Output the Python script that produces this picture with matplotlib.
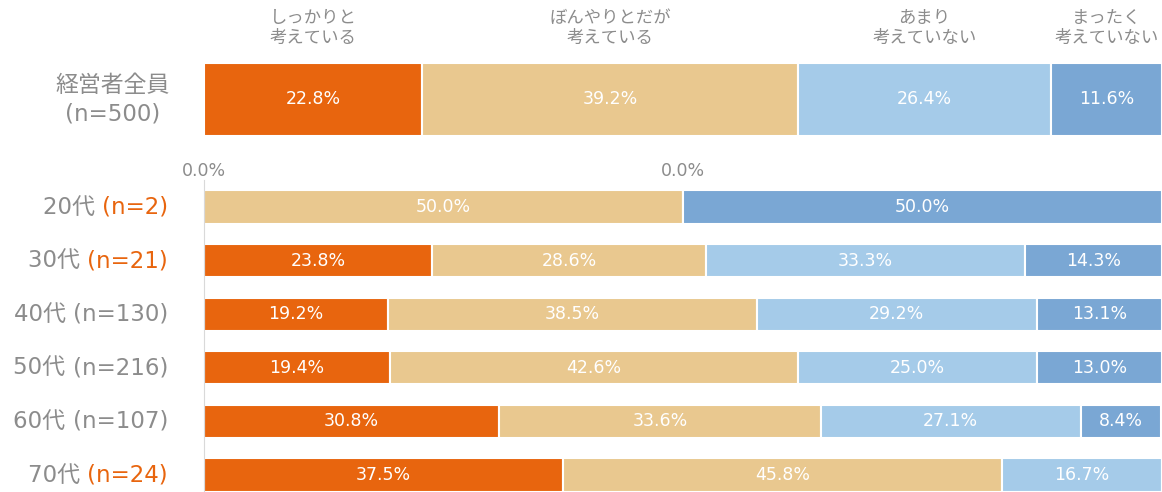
import matplotlib
matplotlib.use("Agg")
import matplotlib.pyplot as plt
import numpy as np

plt.rcParams['font.family'] = ['DejaVu Sans', 'Noto Sans CJK JP']

# データ
kategori = ["しっかりと\n考えている", "ぼんやりとだが\n考えている", "あまり\n考えていない", "まったく\n考えていない"]
farger = ["#E8650E", "#E9C88F", "#A5CBE9", "#7AA7D4"]

total_label = "経営者全員\n(n=500)"
total_verdier = [22.8, 39.2, 26.4, 11.6]

alder = ["20代", "30代", "40代", "50代", "60代", "70代"]
antall = ["(n=2)", "(n=21)", "(n=130)", "(n=216)", "(n=107)", "(n=24)"]
uthev = [True, True, False, False, False, True]
alder_verdier = np.array([
    [0.0, 50.0, 0.0, 50.0],
    [23.8, 28.6, 33.3, 14.3],
    [19.2, 38.5, 29.2, 13.1],
    [19.4, 42.6, 25.0, 13.0],
    [30.8, 33.6, 27.1, 8.4],
    [37.5, 45.8, 16.7, 0.0],
])

grå = "#8C8C8C"
oransje = "#E8650E"

fig = plt.figure(figsize=(11.62, 4.92), dpi=100)

# øverste stolpe: alle
ax1 = fig.add_axes([204/1162, 1-136/492, 1-204/1162, 73/492])
venstre = 0
for i, v in enumerate(total_verdier):
    ax1.barh(0, v, left=venstre, height=1.0, color=farger[i], edgecolor="white", linewidth=1.5)
    ax1.text(venstre + v/2, 0, f"{v:.1f}%", ha="center", va="center", color="white", fontsize=12.5)
    ax1.text(venstre + v/2, 0.98, kategori[i], ha="center", va="center", color=grå,
             fontsize=12.5, linespacing=1.2)
    venstre += v
ax1.set_xlim(0, 100)
ax1.set_ylim(-0.5, 0.5)
ax1.axis("off")
ax1.text(-3.6, 0, total_label, transform=ax1.transData, ha="right", va="center",
         color=grå, fontsize=16.5, multialignment="center", linespacing=1.3, clip_on=False)

# aldersgrupper
ax2 = fig.add_axes([204/1162, 0, 1-204/1162, 312/492])
y = np.arange(len(alder))
venstre = np.zeros(len(alder))
for j in range(4):
    ax2.barh(y, alder_verdier[:, j], left=venstre, height=0.62, color=farger[j],
             edgecolor="white", linewidth=1.5)
    for k in range(len(alder)):
        v = alder_verdier[k, j]
        if v > 0:
            ax2.text(venstre[k] + v/2, y[k], f"{v:.1f}%", ha="center", va="center",
                     color="white", fontsize=12.5)
        elif venstre[k] < 100:
            ax2.text(venstre[k], y[k] - 0.67, f"{v:.1f}%", ha="center", va="center",
                     color=grå, fontsize=12.5)
    venstre += alder_verdier[:, j]

ax2.set_xlim(0, 100)
ax2.set_ylim(5.317, -0.504)
for s in ["top", "right", "bottom"]:
    ax2.spines[s].set_visible(False)
ax2.spines["left"].set_color("#D9D9D9")
ax2.set_xticks([])
ax2.set_yticks([])

# etiketter med to farger
fig.canvas.draw()
renderer = fig.canvas.get_renderer()
for k in range(len(alder)):
    t = ax2.annotate(antall[k], xy=(0, y[k]), xycoords="data", xytext=(-36, 0),
                     textcoords="offset pixels", ha="right", va="center", fontsize=16.5,
                     color=oransje if uthev[k] else grå, annotation_clip=False)
    bb = t.get_window_extent(renderer)
    ax2.annotate(alder[k] + " ", xy=(0, y[k]), xycoords="data",
                 xytext=(-36 - bb.width, 0), textcoords="offset pixels",
                 ha="right", va="center", fontsize=16.5, color=grå, annotation_clip=False)

fig.savefig("out.png", dpi=100)
